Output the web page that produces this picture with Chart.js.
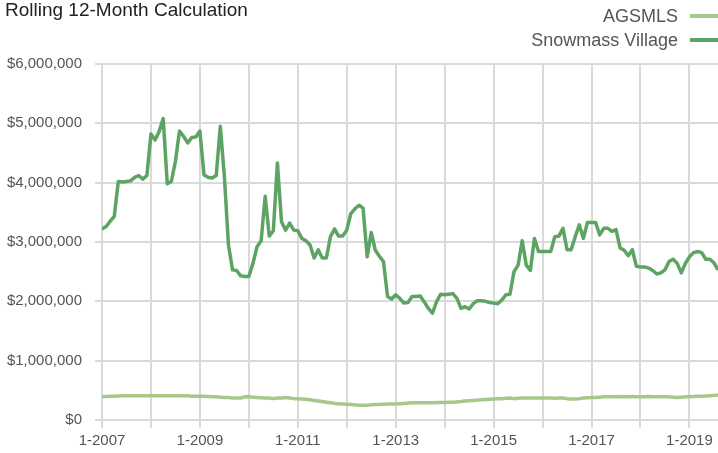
<!DOCTYPE html>
<html><head><meta charset="utf-8">
<script src="https://cdn.jsdelivr.net/npm/chart.js@4/dist/chart.umd.min.js"></script>
<style>
html,body{margin:0;padding:0;background:#fff;}
#wrap{position:relative;width:718px;height:453px;overflow:hidden;font-family:"Liberation Sans",Arial,sans-serif;}
#title{position:absolute;left:5px;top:0px;font-size:19px;line-height:19px;color:#222;white-space:nowrap;}
.legtxt{position:absolute;right:40px;font-size:18px;line-height:18px;color:#555;white-space:nowrap;}
.sw{position:absolute;left:690px;width:30px;height:3.5px;}
canvas{position:absolute;left:0;top:0;}
</style></head>
<body>
<div id="wrap">
<canvas id="c" width="718" height="453"></canvas>
<div id="title">Rolling 12-Month Calculation</div>
<div class="legtxt" style="top:7px">AGSMLS</div>
<div class="sw" style="top:14px;background:#a6c88a"></div>
<div class="legtxt" style="top:31px">Snowmass Village</div>
<div class="sw" style="top:38px;background:#5da463"></div>
</div>
<script>
const startYear = 2007;
const seriesNames = ['AGSMLS', 'Snowmass Village'];
const agsmls = [
 390000,395000,400000,400000,405000,410000,410000,410000,410000,410000,410000,410000,
 410000,410000,410000,410000,410000,410000,410000,410000,410000,410000,400000,400000,
 400000,400000,395000,390000,390000,385000,380000,380000,370000,370000,370000,390000,
 390000,385000,380000,375000,370000,370000,360000,370000,370000,380000,370000,360000,
 360000,355000,350000,340000,330000,320000,310000,300000,290000,280000,275000,270000,
 265000,260000,255000,250000,250000,250000,255000,260000,260000,265000,270000,270000,
 270000,275000,280000,285000,290000,290000,290000,290000,290000,290000,295000,295000,
 295000,300000,300000,305000,310000,320000,325000,330000,335000,340000,345000,350000,
 355000,360000,360000,365000,370000,360000,365000,370000,370000,370000,370000,370000,
 370000,370000,370000,365000,370000,370000,360000,355000,355000,360000,370000,375000,
 380000,380000,385000,390000,390000,390000,390000,395000,390000,390000,395000,390000,
 390000,390000,395000,390000,390000,390000,390000,390000,385000,380000,385000,390000,
 390000,395000,400000,400000,405000,410000,415000,420000
];
const snowmass = [
 3220000,3260000,3350000,3430000,4020000,4010000,4020000,4030000,4090000,4120000,4060000,4120000,
 4820000,4720000,4860000,5080000,3980000,4020000,4360000,4870000,4780000,4670000,4760000,4770000,
 4870000,4130000,4090000,4080000,4120000,4950000,4100000,2950000,2530000,2520000,2430000,2420000,
 2420000,2640000,2920000,3020000,3770000,3100000,3190000,4330000,3340000,3200000,3320000,3200000,
 3190000,3060000,3020000,2950000,2730000,2870000,2730000,2730000,3090000,3220000,3100000,3100000,
 3200000,3480000,3560000,3620000,3570000,2750000,3160000,2860000,2760000,2670000,2080000,2040000,
 2110000,2050000,1970000,1980000,2080000,2080000,2090000,1990000,1880000,1800000,1990000,2120000,
 2110000,2120000,2130000,2050000,1880000,1910000,1870000,1960000,2010000,2010000,2000000,1980000,
 1970000,1960000,2020000,2110000,2120000,2500000,2610000,3020000,2610000,2520000,3060000,2840000,
 2840000,2840000,2840000,3090000,3100000,3230000,2870000,2870000,3090000,3290000,3060000,3330000,
 3330000,3330000,3120000,3230000,3230000,3180000,3210000,2900000,2860000,2770000,2870000,2590000,
 2580000,2580000,2560000,2520000,2460000,2480000,2530000,2670000,2710000,2640000,2480000,2640000,
 2750000,2820000,2840000,2820000,2710000,2710000,2650000,2530000
];
const yTicks = [0,1000000,2000000,3000000,4000000,5000000,6000000];

const toPts = arr => arr.map((v,i)=>({x:i,y:v}));
Chart.defaults.font.family = '"Liberation Sans", Arial, sans-serif';
Chart.defaults.font.size = 15;
Chart.defaults.color = '#555';

new Chart(document.getElementById('c'), {
  type: 'line',
  data: {
    datasets: [
      {label: seriesNames[0], data: toPts(agsmls), borderColor:'#a6c88a', borderWidth:3.5, pointRadius:0, tension:0, borderJoinStyle:'round'},
      {label: seriesNames[1], data: toPts(snowmass), borderColor:'#5da463', borderWidth:3.5, pointRadius:0, tension:0, borderJoinStyle:'round'}
    ]
  },
  options: {
    responsive:false, animation:false,
    layout:{padding:{top:64,left:0,right:0,bottom:0}},
    plugins:{legend:{display:false}, tooltip:{enabled:false}},
    scales:{
      x:{type:'linear', min:0, max:snowmass.length-1,
         border:{display:false},
         grid:{color:'#dadada', lineWidth:2, tickLength:8},
         ticks:{stepSize:12, includeBounds:false, autoSkip:false, maxRotation:0, padding:4,
           callback:(v)=> (v % 24 === 0) ? '1-' + (startYear + v/12) : ''},
         afterFit:(s)=>{s.height = 33;}
      },
      y:{min:yTicks[0], max:yTicks[yTicks.length-1],
         border:{display:false},
         grid:{color:'#dadada', lineWidth:2, tickLength:7},
         ticks:{stepSize:1000000, padding:13,
           callback:(v)=> '$' + v.toLocaleString('en-US')},
         afterFit:(s)=>{s.width = 102;}
      }
    }
  }
});
</script>
</body></html>
